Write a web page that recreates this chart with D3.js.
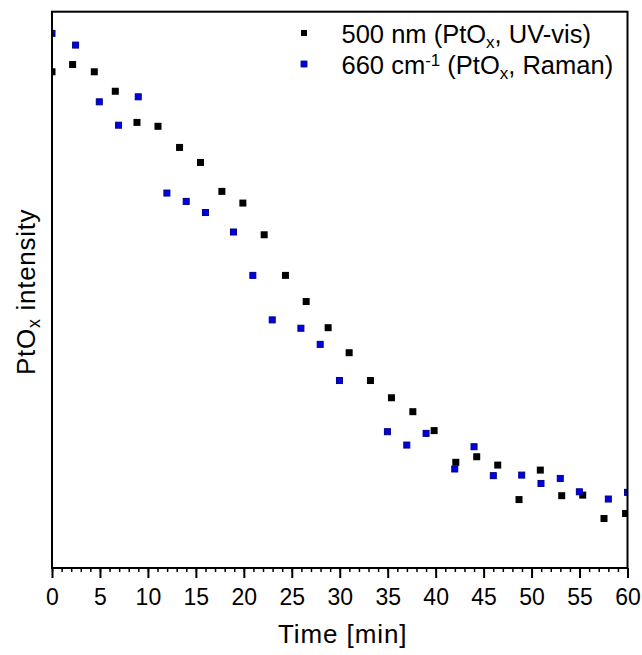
<!DOCTYPE html>
<html>
<head>
<meta charset="utf-8">
<script src="https://cdn.jsdelivr.net/npm/d3@7"></script>
<style>
  body { margin: 0; background: white; }
  text { font-family: Arial, "Liberation Sans", sans-serif; fill: #000; }
</style>
</head>
<body>
<div id="chart"></div>
<script>
// time in minutes, PtOx intensity in arbitrary units (no y ticks in the figure)
const uvTime = [0, 2.15, 4.41, 6.6, 8.86, 11.05, 13.3, 15.48, 17.71, 19.9, 22.12, 24.34, 26.5, 28.79,
  30.98, 33.2, 35.39, 37.62, 39.84, 42.1, 44.28, 46.47, 48.69, 50.91, 53.14, 55.33, 57.55, 59.8];
const uvIntensity = [0.892, 0.905, 0.892, 0.857, 0.801, 0.794, 0.756, 0.729, 0.677, 0.656, 0.599, 0.526, 0.479, 0.432,
  0.387, 0.337, 0.306, 0.281, 0.247, 0.190, 0.200, 0.185, 0.123, 0.176, 0.130, 0.131, 0.089, 0.098];

const ramanTime = [0, 2.46, 4.93, 6.94, 8.99, 11.98, 13.99, 16.0, 18.92, 20.94, 22.96, 25.95, 27.96, 29.97,
  34.97, 36.99, 39.0, 41.99, 44.0, 46.01, 48.97, 50.98, 52.99, 54.98, 58.0, 60];
const ramanIntensity = [0.961, 0.940, 0.838, 0.796, 0.847, 0.674, 0.659, 0.639, 0.604, 0.526, 0.446, 0.431, 0.402, 0.337,
  0.245, 0.221, 0.242, 0.178, 0.218, 0.166, 0.167, 0.152, 0.161, 0.137, 0.124, 0.136];

const xTicks = [0, 5, 10, 15, 20, 25, 30, 35, 40, 45, 50, 55, 60];
const xMinorTicks = d3.range(0, 61, 1);

const width = 642, height = 655;
const margin = { left: 52, right: 14.5, top: 11.7, bottom: 88 };

const svg = d3.select("#chart").append("svg")
    .attr("width", width)
    .attr("height", height)
    .style("background-color", "white");

const x = d3.scaleLinear().domain([0, 60]).range([margin.left, width - margin.right]);
const y = d3.scaleLinear().domain([0, 1]).range([height - margin.bottom + 1, margin.top]);

const plotW = x(60) - x(0);
const plotH = y(0) - y(1);

svg.append("clipPath").attr("id", "plotClip")
  .append("rect")
    .attr("x", x(0)).attr("y", y(1))
    .attr("width", plotW).attr("height", plotH);

// points
const plot = svg.append("g").attr("clip-path", "url(#plotClip)");
const size = 7;

plot.selectAll(".uv")
    .data(uvTime.map((t, i) => [t, uvIntensity[i]]))
    .enter().append("rect")
    .attr("class", "uv")
    .attr("x", d => x(d[0]) - size / 2)
    .attr("y", d => y(d[1]) - size / 2)
    .attr("width", size).attr("height", size)
    .attr("fill", "#000");

plot.selectAll(".raman")
    .data(ramanTime.map((t, i) => [t, ramanIntensity[i]]))
    .enter().append("rect")
    .attr("class", "raman")
    .attr("x", d => x(d[0]) - size / 2 + 0.5)
    .attr("y", d => y(d[1]) - size / 2 + 0.5)
    .attr("width", size - 1).attr("height", size - 1)
    .attr("fill", "#0000e0")
    .attr("stroke", "#00008c")
    .attr("stroke-width", 1);

// minor ticks
svg.append("g")
    .attr("transform", "translate(0," + y(0) + ")")
    .call(d3.axisBottom(x).tickValues(xMinorTicks).tickSize(4).tickFormat(""))
    .call(g => g.select(".domain").remove())
    .selectAll("line").attr("stroke-width", 1.5);

// major ticks + labels
const xAxis = svg.append("g")
    .attr("transform", "translate(0," + y(0) + ")")
    .call(d3.axisBottom(x).tickValues(xTicks).tickSize(10).tickSizeOuter(0).tickPadding(11));
xAxis.select(".domain").remove();
xAxis.selectAll("line").attr("stroke-width", 2);
xAxis.selectAll("text")
    .style("font-size", "23px")
    .style("font-family", "Arial, 'Liberation Sans', sans-serif");

// frame
svg.append("rect")
    .attr("x", x(0)).attr("y", y(1))
    .attr("width", plotW).attr("height", plotH)
    .attr("fill", "none")
    .attr("stroke", "#000")
    .attr("stroke-width", 2);

// axis titles
svg.append("text")
    .attr("x", (x(0) + x(60)) / 2 + 3)
    .attr("y", 643)
    .attr("text-anchor", "middle")
    .style("font-size", "26px")
    .style("letter-spacing", "0.9px")
    .text("Time [min]");

const yTitle = svg.append("text")
    .attr("transform", "translate(35," + ((y(0) + y(1)) / 2 + 2) + ") rotate(-90)")
    .attr("text-anchor", "middle")
    .style("font-size", "26px")
    .style("letter-spacing", "0.7px");
yTitle.append("tspan").text("PtO");
yTitle.append("tspan").attr("baseline-shift", "-28%").style("font-size", "18px").text("x");
yTitle.append("tspan").text(" intensity");

// legend
const legend = svg.append("g");
const l1 = legend.append("text").attr("x", 341.5).attr("y", 43).style("font-size", "25.5px");
l1.append("tspan").text("500 nm (PtO");
l1.append("tspan").attr("baseline-shift", "-28%").style("font-size", "17px").text("x");
l1.append("tspan").text(", UV-vis)");

const l2 = legend.append("text").attr("x", 341.5).attr("y", 74).style("font-size", "25.5px");
l2.append("tspan").text("660 cm");
l2.append("tspan").attr("baseline-shift", "45%").style("font-size", "17px").text("-1");
l2.append("tspan").text(" (PtO");
l2.append("tspan").attr("baseline-shift", "-28%").style("font-size", "17px").text("x");
l2.append("tspan").text(", Raman)");

legend.append("rect").attr("x", 301).attr("y", 30).attr("width", 6).attr("height", 6).attr("fill", "#000");
legend.append("rect").attr("x", 301).attr("y", 61).attr("width", 6).attr("height", 6)
    .attr("fill", "#0000e0").attr("stroke", "#00008c").attr("stroke-width", 0.8);
</script>
</body>
</html>
